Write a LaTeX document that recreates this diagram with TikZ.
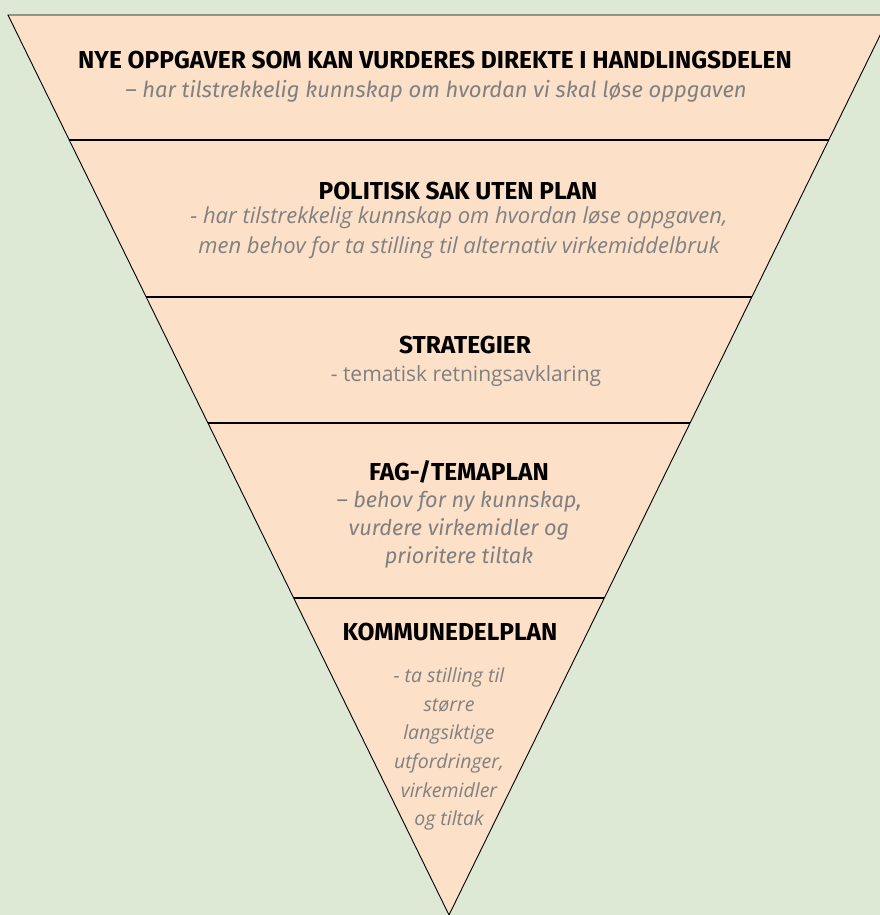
\documentclass[tikz,border=0pt]{standalone}
\usepackage{fontspec}
\setmainfont{Fira Sans}
\newfontfamily\opensans{Open Sans}
\usetikzlibrary{calc}
\definecolor{funnel-bg}{RGB}{221, 232, 213}
\definecolor{funnel-fill}{RGB}{252, 224, 200}
\definecolor{funnel-gray}{RGB}{128, 128, 128}

\begin{document}
\begin{tikzpicture}[x=1pt, y=-1pt,
  head/.style={inner sep=0pt, font=\fontsize{24.5}{28}\selectfont\bfseries},
  sub/.style={inner sep=0pt, align=center, text=funnel-gray,
              font=\fontsize{21.7}{28}\selectfont\itshape},
  subos/.style={sub, font=\fontsize{19.5}{28.7}\selectfont\opensans\itshape},
  divider/.style={line width=1.2pt}
]
  \fill[funnel-bg] (0,0) rectangle (880,915);
  \useasboundingbox (0,0) rectangle (880,915);
  \clip (0,0) rectangle (880,915);

  \coordinate (tl)   at (8,15);
  \coordinate (tr)   at (890,15);
  \coordinate (apex) at (449,915);
  \filldraw[fill=funnel-fill, draw=black, line width=0.9pt] (tl) -- (tr) -- (apex) -- cycle;
  \foreach \y in {140, 297, 423, 598}
    \draw[divider] ($(tl)!{(\y-15)/900}!(apex)$) -- ($(tr)!{(\y-15)/900}!(apex)$);

  \node[head]  (nye)     at (435,60)  {NYE OPPGAVER SOM KAN VURDERES DIREKTE I HANDLINGSDELEN};
  \node[sub, font=\fontsize{22}{28}\selectfont\itshape] (nyesub) at (436,91)
    {– har tilstrekkelig kunnskap om hvordan vi skal løse oppgaven};
  \node[head]  (pol)     at (458,191) {POLITISK SAK UTEN PLAN};
  \node[subos, font=\fontsize{22}{30}\selectfont\opensans\itshape] (polsub) at (459,233)
    {- har tilstrekkelig kunnskap om hvordan løse oppgaven,\\
     men behov for ta stilling til alternativ virkemiddelbruk};
  \node[head]  (strat)   at (465,345) {STRATEGIER};
  \node[subos, font=\fontsize{21}{28}\selectfont\opensans] (stratsub) at (466,376)
    {- tematisk retningsavklaring};
  \node[head]  (fag)     at (459,472) {FAG-/TEMAPLAN};
  \node[sub]   (fagsub)  at (459,530) {– behov for ny kunnskap,\\ vurdere virkemidler og\\ prioritere tiltak};
  \node[head]  (kdp)     at (450,632) {KOMMUNEDELPLAN};
  \node[subos] (kdpsub)  at (449,749) {- ta stilling til\\ større\\ langsiktige\\ utfordringer,\\ virkemidler\\ og tiltak};
\end{tikzpicture}
\end{document}
